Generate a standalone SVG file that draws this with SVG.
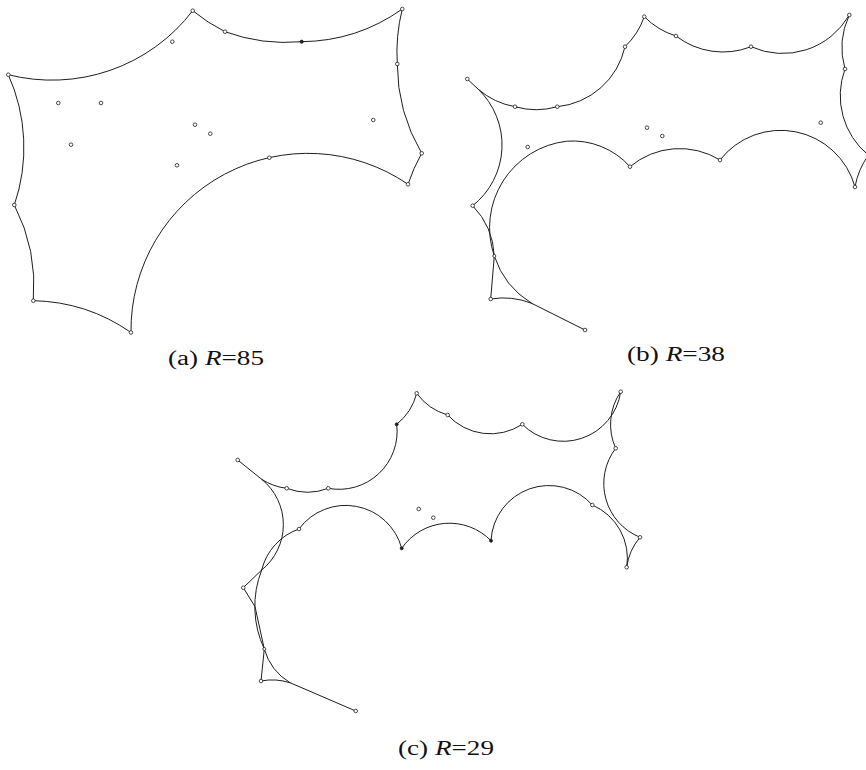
<svg xmlns="http://www.w3.org/2000/svg" width="866" height="770" viewBox="0 0 866 770">
<style>
.edge{fill:none;stroke:#1e1e1e;stroke-width:1;stroke-linejoin:round;stroke-linecap:round}
.pt{fill:#fff;stroke:#1e1e1e;stroke-width:0.8}
.ptf{fill:#1e1e1e;stroke:#1e1e1e;stroke-width:0.8}
.lbl{font-family:"Liberation Serif","Times New Roman",serif;font-size:20px;fill:#111}
.it{font-style:italic}
</style>
<rect width="866" height="770" fill="#fff"/>
<g id="panel-a">
<g id="edges-a">
<path class="edge" d="M 8.3 74.7 A 177 177 0 0 0 192.7 10.7 A 177 177 0 0 0 225 31.7 A 177 177 0 0 0 301.7 41.7 A 177 177 0 0 0 402.3 9 A 177 177 0 0 0 397.3 64 A 177 177 0 0 0 421.7 153.3 A 177 177 0 0 0 408 184.3 A 177 177 0 0 0 131 332.5 A 177 177 0 0 0 33.3 300.7 A 177 177 0 0 0 14.3 205 A 177 177 0 0 0 8.3 74.7 Z"/>
</g>
<g id="points-a">
<circle class="pt" cx="8.3" cy="74.7" r="1.8"/>
<circle class="pt" cx="192.7" cy="10.7" r="1.8"/>
<circle class="pt" cx="172.3" cy="41.7" r="1.8"/>
<circle class="pt" cx="225" cy="31.7" r="1.8"/>
<circle class="ptf" cx="301.7" cy="41.7" r="1.6"/>
<circle class="pt" cx="402.3" cy="9" r="1.8"/>
<circle class="pt" cx="397.3" cy="64" r="1.8"/>
<circle class="pt" cx="373.3" cy="120" r="1.8"/>
<circle class="pt" cx="421.7" cy="153.3" r="1.8"/>
<circle class="pt" cx="408" cy="184.3" r="1.8"/>
<circle class="pt" cx="269.3" cy="157.7" r="1.8"/>
<circle class="pt" cx="131" cy="332.5" r="1.8"/>
<circle class="pt" cx="33.3" cy="300.7" r="1.8"/>
<circle class="pt" cx="14.3" cy="205" r="1.8"/>
<circle class="pt" cx="58.3" cy="103" r="1.8"/>
<circle class="pt" cx="101" cy="103" r="1.8"/>
<circle class="pt" cx="71" cy="144.7" r="1.8"/>
<circle class="pt" cx="195" cy="124.7" r="1.8"/>
<circle class="pt" cx="210.3" cy="133.7" r="1.8"/>
<circle class="pt" cx="177" cy="165.3" r="1.8"/>
</g>
<text class="lbl" x="168" y="365" textLength="96" lengthAdjust="spacingAndGlyphs">(a) <tspan class="it">R</tspan>=85</text>
</g>
<g id="panel-b">
<g id="edges-b">
<path class="edge" d="M 467.3 79 L 478.3 89.3 A 77 77 0 0 0 515 106.7 A 77 77 0 0 0 557.3 106.7 A 77 77 0 0 0 625 46.7 A 77 77 0 0 0 644.3 16.7 A 77 77 0 0 0 676 36 A 77 77 0 0 0 751 46.7 A 77 77 0 0 0 849.3 15 A 77 77 0 0 0 845 69 A 77 77 0 0 0 868.4 155.2 A 77 77 0 0 0 855 187 A 77 77 0 0 0 720 160 A 77 77 0 0 0 630 166.7 A 77 77 0 0 0 566.7 141.2 A 87 87 0 0 0 494.3 256 A 87 87 0 0 0 531.7 303.3 L 585 330"/>
<path class="edge" d="M 478.3 89.3 A 77 77 0 0 1 472.7 205.7"/>
<path class="edge" d="M 472.7 205.7 A 77 77 0 0 1 494.3 256 L 490.7 299 A 77 77 0 0 1 531.7 303.3"/>
</g>
<g id="points-b">
<circle class="pt" cx="467.3" cy="79" r="1.8"/>
<circle class="pt" cx="515" cy="106.7" r="1.8"/>
<circle class="pt" cx="557.3" cy="106.7" r="1.8"/>
<circle class="pt" cx="625" cy="46.7" r="1.8"/>
<circle class="pt" cx="644.3" cy="16.7" r="1.8"/>
<circle class="pt" cx="676" cy="36" r="1.8"/>
<circle class="pt" cx="751" cy="46.7" r="1.8"/>
<circle class="pt" cx="849.3" cy="15" r="1.8"/>
<circle class="pt" cx="845" cy="69" r="1.8"/>
<circle class="pt" cx="820.7" cy="122.7" r="1.8"/>
<circle class="pt" cx="855" cy="187" r="1.8"/>
<circle class="pt" cx="720" cy="160" r="1.8"/>
<circle class="pt" cx="630" cy="166.7" r="1.8"/>
<circle class="pt" cx="527.7" cy="147" r="1.8"/>
<circle class="pt" cx="647" cy="127.7" r="1.8"/>
<circle class="pt" cx="662.3" cy="136" r="1.8"/>
<circle class="pt" cx="472.7" cy="205.7" r="1.8"/>
<circle class="pt" cx="494.3" cy="256" r="1.5"/>
<circle class="pt" cx="490.7" cy="299" r="1.8"/>
<circle class="pt" cx="585" cy="330" r="1.8"/>
</g>
<text class="lbl" x="627" y="361" textLength="98" lengthAdjust="spacingAndGlyphs">(b) <tspan class="it">R</tspan>=38</text>
</g>
<g id="panel-c">
<g id="edges-c">
<path class="edge" d="M 237.7 460 L 261.7 479.3 A 58 58 0 0 0 286.7 488.3 A 58 58 0 0 0 328.3 488.3 A 58 58 0 0 0 396.7 424.3 A 58 58 0 0 0 416.7 393.3 A 58 58 0 0 0 447.7 415 A 58 58 0 0 0 522.3 424.3 A 58 58 0 0 0 620.7 391.7 A 58 58 0 0 0 615.7 448.3 A 58 58 0 0 0 640 537.3 A 58 58 0 0 0 626.7 567.3 A 58 58 0 0 0 592.3 505 A 58 58 0 0 0 491 540.7 A 58 58 0 0 0 401.7 548.3 A 58 58 0 0 0 299 529 A 58 58 0 0 0 261.7 570 A 100 100 0 0 0 264.3 649 A 58 58 0 0 0 290 682.7 L 355.7 711"/>
<path class="edge" d="M 261.7 479.3 A 58 58 0 0 1 261.7 570"/>
<path class="edge" d="M 261.7 570 L 243.3 587.7 L 255 606.7 L 264.3 649 L 261 681 A 58 58 0 0 1 290 682.7"/>
</g>
<g id="points-c">
<circle class="pt" cx="237.7" cy="460" r="1.8"/>
<circle class="pt" cx="286.7" cy="488.3" r="1.8"/>
<circle class="pt" cx="328.3" cy="488.3" r="1.8"/>
<circle class="ptf" cx="396.7" cy="424.3" r="1.5"/>
<circle class="pt" cx="416.7" cy="393.3" r="1.8"/>
<circle class="pt" cx="447.7" cy="415" r="1.8"/>
<circle class="pt" cx="522.3" cy="424.3" r="1.8"/>
<circle class="pt" cx="620.7" cy="391.7" r="1.8"/>
<circle class="pt" cx="615.7" cy="448.3" r="1.8"/>
<circle class="pt" cx="592.3" cy="505" r="1.8"/>
<circle class="pt" cx="640" cy="537.3" r="1.8"/>
<circle class="pt" cx="626.7" cy="567.3" r="1.8"/>
<circle class="ptf" cx="491" cy="540.7" r="1.5"/>
<circle class="ptf" cx="401.7" cy="548.3" r="1.5"/>
<circle class="pt" cx="418.7" cy="509" r="1.8"/>
<circle class="pt" cx="433.3" cy="517.7" r="1.8"/>
<circle class="pt" cx="299" cy="529" r="1.8"/>
<circle class="pt" cx="243.3" cy="587.7" r="1.8"/>
<circle class="pt" cx="264.3" cy="649" r="1.5"/>
<circle class="pt" cx="261" cy="681" r="1.8"/>
<circle class="pt" cx="355.7" cy="711" r="1.8"/>
</g>
<text class="lbl" x="398" y="755" textLength="96" lengthAdjust="spacingAndGlyphs">(c) <tspan class="it">R</tspan>=29</text>
</g>
</svg>
